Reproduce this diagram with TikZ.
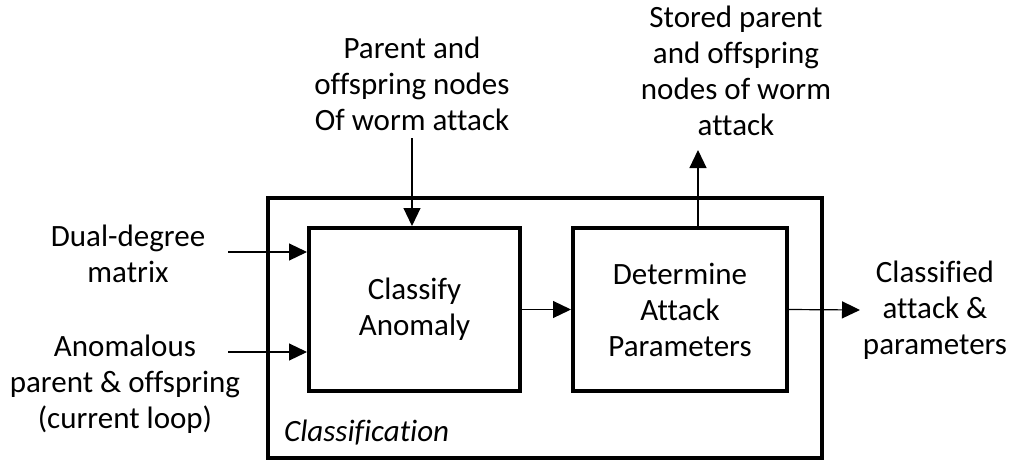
\documentclass[tikz,border=0pt]{standalone}
\usepackage{fontspec}
\setmainfont{Carlito}[Ligatures={NoCommon}]
\usetikzlibrary{arrows.meta}
\begin{document}
\begin{tikzpicture}[x=1pt,y=-1pt,
  txt/.style={align=center,font=\fontsize{31}{36}\selectfont,inner sep=0pt},
  block/.style={draw,line width=4pt,inner sep=0pt,align=center,font=\fontsize{31}{36}\selectfont},
  flow/.style={line width=1.2pt,-{Triangle[length=18pt,width=17pt]}}]
\useasboundingbox (0,0) rectangle (1012,464);
% outer stage and its two blocks
\node[draw,line width=4pt,minimum width=554pt,minimum height=260pt,inner sep=0pt] (stage) at (545,328) {};
\node[block,minimum width=211pt,minimum height=163pt] (cls) at (414.5,309.5) {Classify\\Anomaly};
\node[block,minimum width=214pt,minimum height=163pt] (det) at (680,309.5) {Determine\\Attack\\Parameters};
\node[anchor=west,inner sep=0pt,font=\fontsize{31}{36}\selectfont\itshape] (lbl) at (284,433) {Classification};
% inputs and outputs
\node[txt] (in1) at (128,254) {Dual-degree\\matrix};
\node[txt] (in2) at (125,384) {Anomalous\\parent \& offspring\\(current loop)};
\node[txt] (in3) at (412,84) {Parent and\\offspring nodes\\Of worm attack};
\node[txt] (out1) at (736,71) {Stored parent\\and offspring\\nodes of worm\\attack};
\node[txt] (out2) at (935,310) {Classified\\attack \&\\parameters};
% free ends of the connectors
\coordinate (s1) at (228,252);
\coordinate (s2) at (228,352);
\coordinate (s3) at (412,138);
\coordinate (e1) at (698,150);
\coordinate (e2) at (860,310);
\draw[flow] (s1) -- (s1 -| cls.west);
\draw[flow] (s2) -- (s2 -| cls.west);
\draw[flow] (s3) -- (s3 |- cls.north);
\draw[flow] (cls.east) -- (det.west);
\draw[flow] (det.north -| e1) -- (e1);
\draw[flow] (det.east) -- (e2);
\end{tikzpicture}
\end{document}
